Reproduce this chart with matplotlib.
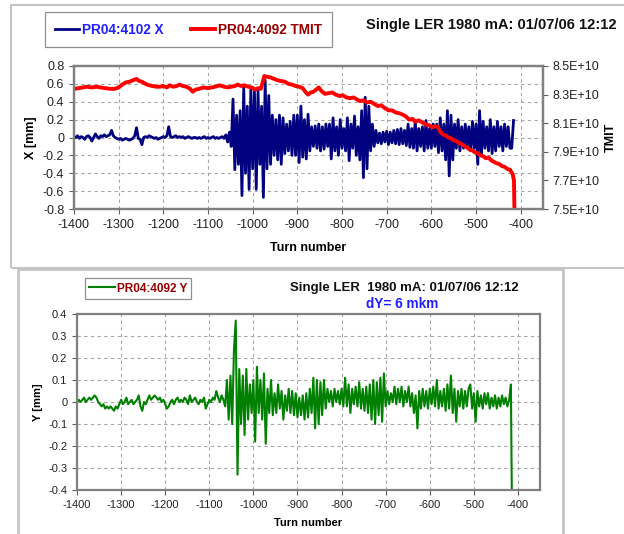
import numpy as np
import matplotlib
matplotlib.use("Agg")
import matplotlib.pyplot as plt
from matplotlib.patches import Rectangle
from matplotlib.ticker import FuncFormatter, MultipleLocator

plt.rcParams['font.family'] = ['Liberation Sans', 'DejaVu Sans']
plt.rcParams['axes.unicode_minus'] = False

# turn numbers of the BPM samples (every 4th turn, up to the beam loss)
turns = np.arange(-1400, -415, 4)

# horizontal orbit PR04:4102 X [mm]
x_mm = [
    0.01, 0.00, 0.02, -0.01, 0.01, 0.00, -0.02, 0.01, 0.02, 0.00,
    -0.04, 0.00, 0.04, 0.01, -0.01, 0.02, 0.01, 0.03, 0.01, 0.02,
    0.03, 0.08, 0.02, 0.00, -0.01, -0.02, -0.01, -0.03, -0.02, -0.01,
    -0.02, -0.03, -0.02, -0.01, 0.02, 0.11, -0.01, -0.02, -0.08, 0.00,
    0.01, 0.00, 0.02, 0.01, 0.00, -0.01, 0.00, -0.02, -0.01, 0.00,
    0.01, 0.00, 0.02, 0.12, 0.01, 0.00, 0.01, 0.02, 0.00, 0.01,
    0.00, 0.01, -0.01, 0.00, 0.01, 0.00, -0.01, 0.00, 0.00, -0.01,
    0.00, -0.01, 0.00, 0.01, -0.01, 0.00, -0.01, 0.00, 0.01, -0.01,
    0.00, -0.01, 0.00, 0.01, -0.01,
    0.03, -0.05, 0.06, -0.10, 0.43, -0.36, 0.25, -0.30, 0.30, -0.65,
    0.56, -0.40, 0.35, -0.58, 0.55, -0.35, 0.52, -0.58, 0.52, -0.30,
    0.35, -0.67, 0.64, -0.35, 0.47, -0.30, 0.25, -0.20, 0.20, -0.25,
    0.25, -0.30, 0.22, -0.18, 0.15, -0.15, 0.18, -0.20, 0.25, -0.20,
    0.25, -0.28, 0.35, -0.22, 0.20, -0.24, 0.26, -0.15, 0.12, -0.10,
    0.13, -0.12, 0.15, -0.15, 0.12, -0.13, 0.15, -0.10, 0.15, -0.24,
    0.22, -0.15, 0.12, -0.20, 0.20, -0.12, 0.10, -0.15, 0.22, -0.26,
    0.15, -0.12, 0.24, -0.20, 0.12, -0.25, 0.30, -0.45, 0.45, -0.35,
    0.35, -0.15, 0.15, -0.10, 0.08, -0.06, 0.05, -0.07, 0.06, -0.05,
    0.07, -0.08, 0.06, -0.06, 0.08, -0.07, 0.09, -0.08, 0.10, -0.07,
    0.08, -0.09, 0.15, -0.11, 0.10, -0.12, 0.19, -0.15, 0.10, -0.10,
    0.12, -0.15, 0.19, -0.12, 0.10, -0.12, 0.15, -0.10, 0.15, -0.17,
    0.22, -0.15, 0.15, -0.25, 0.30, -0.43, 0.25, -0.25, 0.15, -0.12,
    0.20, -0.15, 0.12, -0.12, 0.15, -0.10, 0.12, -0.15, 0.18, -0.12,
    0.15, -0.30, 0.30, -0.20, 0.18, -0.12, 0.12, -0.15, 0.20, -0.18,
    0.12, -0.15, 0.18, -0.10, 0.12, -0.15, 0.15, -0.10, 0.12, -0.12,
    -0.12, 0.19,
]

# bunch intensity PR04:4092 TMIT
tmit_turn = [
    -1400, -1390, -1380, -1372, -1360, -1350, -1340, -1330, -1318, -1310,
    -1300, -1292, -1284, -1276, -1268, -1260, -1254, -1248, -1240, -1232,
    -1224, -1216, -1208, -1200, -1192, -1186, -1178, -1170, -1164, -1156,
    -1148, -1140, -1134, -1128, -1120, -1110, -1100, -1092, -1084, -1074,
    -1064, -1056, -1048, -1040, -1034, -1026, -1018, -1010, -1002, -994,
    -988, -982, -978, -974, -968, -960, -952, -944, -936, -928,
    -920, -912, -904, -896, -888, -882, -876, -870, -864, -856,
    -852, -846, -838, -830, -822, -814, -806, -798, -790, -782,
    -774, -766, -760, -752, -744, -736, -728, -720, -712, -704,
    -696, -688, -680, -672, -664, -656, -650, -642, -636, -628,
    -620, -612, -604, -598, -592, -586, -580, -574, -568, -562,
    -556, -550, -544, -538, -532, -526, -520, -514, -508, -502,
    -496, -490, -484, -478, -472, -466, -460, -454, -448, -442,
    -436, -430, -424, -418, -415, -414,
]
tmit = [
    8.340, 8.345, 8.350, 8.355, 8.350, 8.355, 8.350, 8.345, 8.340, 8.340,
    8.350, 8.370, 8.385, 8.390, 8.400, 8.410, 8.395, 8.390, 8.375, 8.365,
    8.360, 8.355, 8.355, 8.360, 8.350, 8.365, 8.355, 8.360, 8.370, 8.360,
    8.355, 8.340, 8.320, 8.335, 8.340, 8.350, 8.345, 8.350, 8.355, 8.365,
    8.355, 8.350, 8.355, 8.360, 8.370, 8.360, 8.365, 8.355, 8.350, 8.335,
    8.345, 8.340, 8.380, 8.430, 8.425, 8.420, 8.410, 8.400, 8.395, 8.390,
    8.375, 8.370, 8.360, 8.355, 8.345, 8.320, 8.300, 8.315, 8.320, 8.340,
    8.350, 8.325, 8.305, 8.310, 8.315, 8.300, 8.290, 8.295, 8.280, 8.275,
    8.280, 8.265, 8.255, 8.260, 8.245, 8.250, 8.235, 8.220, 8.225, 8.205,
    8.190, 8.190, 8.175, 8.170, 8.160, 8.145, 8.125, 8.130, 8.110, 8.120,
    8.105, 8.090, 8.085, 8.070, 8.080, 8.075, 8.040, 8.020, 8.015, 8.000,
    7.995, 7.980, 7.975, 7.960, 7.955, 7.940, 7.930, 7.915, 7.910, 7.895,
    7.890, 7.875, 7.870, 7.855, 7.860, 7.840, 7.830, 7.820, 7.815, 7.800,
    7.795, 7.780, 7.775, 7.745, 7.700, 7.500,
]  # x 1E10

# vertical orbit PR04:4092 Y [mm]
y_mm = [
    0.00, 0.01, 0.00, 0.01, 0.02, 0.00, 0.01, 0.02, 0.01, 0.02,
    0.03, 0.02, 0.00, -0.01, -0.02, -0.01, -0.03, -0.02, -0.03, -0.02,
    -0.03, -0.04, -0.02, -0.03, -0.01, 0.01, -0.01, 0.00, 0.02, -0.01,
    0.00, 0.01, -0.01, 0.00, 0.01, 0.03, -0.02, -0.04, 0.00, -0.01,
    0.01, 0.03, 0.01, 0.02, 0.03, 0.02, 0.01, 0.02, 0.00, 0.01,
    -0.01, -0.03, -0.02, 0.00, 0.01, -0.01, 0.01, 0.02, 0.00, 0.01,
    0.00, 0.02, 0.01, -0.01, 0.03, 0.00, 0.01, 0.02, 0.00, -0.01,
    0.01, 0.00, 0.02, -0.03, -0.01, 0.01, 0.00, 0.02, 0.01, 0.05,
    0.02, 0.00, 0.03, 0.01, -0.02,
    0.10, -0.08, 0.12, -0.10, 0.24, 0.37, -0.33, 0.15, -0.10, 0.12,
    -0.15, 0.15, -0.08, 0.08, -0.05, 0.10, -0.18, 0.16, -0.05, 0.10,
    -0.08, 0.13, -0.19, 0.06, -0.05, 0.10, -0.06, 0.04, -0.05, 0.08,
    -0.03, 0.05, -0.08, 0.03, -0.04, 0.06, -0.05, 0.05, -0.06, 0.04,
    -0.07, 0.02, -0.06, 0.03, -0.08, 0.04, -0.07, 0.06, -0.05, 0.11,
    -0.12, 0.10, -0.10, 0.09, -0.06, 0.10, -0.03, 0.06, 0.00, 0.05,
    -0.02, 0.06, 0.00, 0.05, -0.01, 0.06, -0.02, 0.11, -0.02, 0.08,
    -0.05, 0.06, -0.01, 0.07, -0.02, 0.09, -0.03, 0.06, -0.04, 0.07,
    -0.05, 0.08, -0.08, 0.10, -0.10, 0.09, -0.06, 0.11, -0.09, 0.13,
    -0.02, 0.05, -0.01, 0.04, 0.00, 0.07, -0.01, 0.06, 0.00, 0.07,
    -0.02, 0.05, 0.00, 0.07, -0.02, 0.04, -0.05, 0.03, -0.12, 0.05,
    -0.03, 0.06, -0.02, 0.05, -0.03, 0.06, -0.01, 0.07, -0.02, 0.10,
    -0.03, 0.05, -0.02, 0.06, -0.04, 0.08, -0.03, 0.12, -0.05, 0.06,
    -0.09, 0.05, -0.02, 0.06, -0.03, 0.05, -0.02, 0.06, 0.08, -0.03,
    0.04, -0.09, 0.05, -0.02, 0.03, -0.03, 0.04, -0.01, 0.04, -0.03,
    0.02, -0.02, 0.03, -0.03, 0.02, -0.02, 0.03, -0.01, 0.02, -0.02,
    0.01, 0.08,
]
y_end_turn = -414
y_end = -0.4

x_ticks = list(range(-1400, -399, 100))
tmit_ticks = [7.5e10, 7.7e10, 7.9e10, 8.1e10, 8.3e10, 8.5e10]
title_text = 'Single LER 1980 mA: 01/07/06 12:12'
title2_text = 'Single LER  1980 mA: 01/07/06 12:12'
note_text = 'dY= 6 mkm'

grid_col = '#a6a6a6'
spine_col = '#808080'
txt_col = '#222222'


def num_fmt(v, pos):
    if abs(v) < 1e-9:
        return '0'
    return '%g' % round(v, 2)


def style_axes(ax, size):
    for s in ax.spines.values():
        s.set_color(spine_col)
        s.set_linewidth(1.6)
    ax.tick_params(direction='out', length=3.5, width=0.8, color='#606060',
                   labelsize=size, labelcolor=txt_col)
    ax.grid(True, linestyle=(0, (3, 3)), color=grid_col, linewidth=0.8)
    ax.set_axisbelow(True)


fig = plt.figure(figsize=(6.24, 5.34), dpi=100)

# chart area frames
fig.patches.append(Rectangle((11 / 624, 1 - 268 / 534), 620 / 624, 263 / 534,
                             transform=fig.transFigure, fill=False,
                             edgecolor='#c4c4c4', linewidth=1.5))
fig.patches.append(Rectangle((18 / 624, -0.02), 545 / 624, 1 - 269 / 534 + 0.02,
                             transform=fig.transFigure, fill=False,
                             edgecolor='#c4c4c4', linewidth=2.0))

# ---- top chart: X and TMIT ----
ax1 = fig.add_axes([74 / 624, 1 - 209 / 534, 469 / 624, 143 / 534])
l1, = ax1.plot(turns, x_mm, color='#000080', linewidth=2.0)
ax1.set_xlim(-1400, -350)
ax1.set_ylim(-0.8, 0.8)
ax1.set_xticks(x_ticks)
ax1.yaxis.set_major_locator(MultipleLocator(0.2))
ax1.yaxis.set_major_formatter(FuncFormatter(num_fmt))
style_axes(ax1, 9)
ax1.set_xlabel('Turn number', fontsize=9, fontweight='bold', labelpad=8)
ax1.set_ylabel('X [mm]', fontsize=9, fontweight='bold', labelpad=4)

ax1b = ax1.twinx()
l2, = ax1b.plot(tmit_turn, np.array(tmit) * 1e10, color='#ff0000', linewidth=2.8)
ax1b.set_ylim(7.5e10, 8.5e10)
ax1b.set_yticks(tmit_ticks)
ax1b.yaxis.set_major_formatter(FuncFormatter(lambda v, p: '%.1E' % v))
for s in ax1b.spines.values():
    s.set_color(spine_col)
    s.set_linewidth(1.6)
ax1b.tick_params(direction='out', length=3.5, width=0.8, color='#606060',
                 labelsize=9, labelcolor=txt_col)
ax1b.set_ylabel('TMIT', fontsize=9, fontweight='bold', labelpad=4)

leg1 = ax1b.legend([l1, l2], ['PR04:4102 X', 'PR04:4092 TMIT'], loc='center',
                   bbox_to_anchor=(188.5 / 624, 1 - 29.5 / 534),
                   bbox_transform=fig.transFigure, ncol=2, fancybox=False,
                   edgecolor='#909090', framealpha=1, handlelength=1.8,
                   handletextpad=0.2, columnspacing=2.0, borderpad=0.75,
                   labelcolor=['#2020ff', '#990000'],
                   prop={'weight': 'bold', 'size': 9.8})
leg1.get_frame().set_linewidth(0.9)

fig.text(491 / 624, 1 - 25 / 534, title_text, ha='center', va='center',
         fontsize=10.6, fontweight='bold', color='#111111')

# ---- bottom chart: Y ----
ax2 = fig.add_axes([77 / 624, 1 - 490 / 534, 463 / 624, 176 / 534])
l3, = ax2.plot(list(turns) + [y_end_turn], y_mm + [y_end], color='#008000',
               linewidth=1.5)
ax2.set_xlim(-1400, -350)
ax2.set_ylim(-0.4, 0.4)
ax2.set_xticks(x_ticks)
ax2.yaxis.set_major_locator(MultipleLocator(0.1))
ax2.yaxis.set_major_formatter(FuncFormatter(num_fmt))
style_axes(ax2, 8)
ax2.set_xlabel('Turn number', fontsize=8, fontweight='bold', labelpad=6)
ax2.set_ylabel('Y [mm]', fontsize=8, fontweight='bold', labelpad=4)

leg2 = ax2.legend([l3], ['PR04:4092 Y'], loc='center',
                  bbox_to_anchor=(138 / 624, 1 - 288.5 / 534),
                  bbox_transform=fig.transFigure, fancybox=False,
                  edgecolor='#909090', framealpha=1, handlelength=2.2,
                  handletextpad=0.2, borderpad=0.35,
                  labelcolor=['#990000'], prop={'weight': 'bold', 'size': 8.5})
leg2.get_frame().set_linewidth(0.9)

fig.text(404.5 / 624, 1 - 288 / 534, title2_text, ha='center', va='center',
         fontsize=9.5, fontweight='bold', color='#111111')
fig.text(402 / 624, 1 - 304 / 534, note_text, ha='center', va='center',
         fontsize=9.8, fontweight='bold', color='#2020ff')

fig.savefig('out.png', dpi=100)
